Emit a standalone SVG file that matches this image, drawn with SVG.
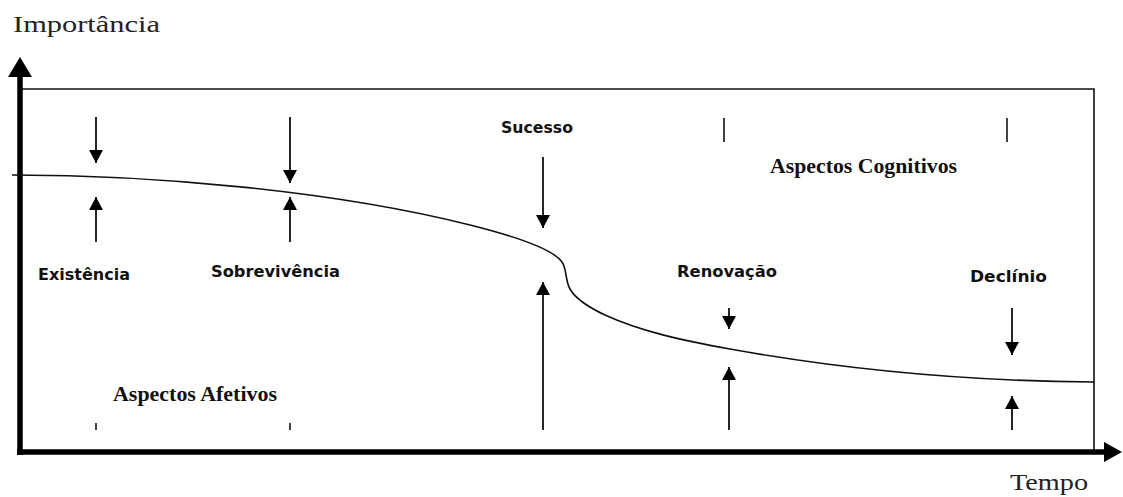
<svg xmlns="http://www.w3.org/2000/svg" width="1123" height="497" viewBox="0 0 1123 497">
<style>
.lab{font-family:"DejaVu Sans","Liberation Sans",sans-serif;font-weight:bold;font-size:16px;fill:#111}
.asp{font-family:"Liberation Serif","Times New Roman",serif;font-weight:bold;font-size:20px;fill:#111}
.ax{font-family:"Liberation Serif","Times New Roman",serif;fill:#222}
.arr{stroke:#000;stroke-width:1.7;fill:none;marker-end:url(#ah)}
.tick{stroke:#222;stroke-width:1.7}
</style>
<defs>
<marker id="ah" markerUnits="userSpaceOnUse" viewBox="0 0 13 14" refX="13" refY="7" markerWidth="13" markerHeight="14" orient="auto">
<path d="M0,0 L13,7 L0,14 z" fill="#000"/>
</marker>
</defs>
<rect width="1123" height="497" fill="#fff"/>
<g id="frame" fill="none" stroke="#111" stroke-width="1.6">
<path d="M22,89 H1094 V452"/>
</g>
<g id="axes">
<line x1="20" y1="74" x2="20" y2="455" stroke="#000" stroke-width="5.5"/>
<polygon points="20,57 32,77 8,77" fill="#000"/>
<line x1="17" y1="452" x2="1106" y2="452" stroke="#000" stroke-width="5.5"/>
<polygon points="1122,452 1104,442 1104,462" fill="#000"/>
<text class="ax" x="13" y="32" font-size="24" textLength="147" lengthAdjust="spacingAndGlyphs">Importância</text>
<text class="ax" x="1010" y="490" font-size="23" textLength="78" lengthAdjust="spacingAndGlyphs">Tempo</text>
</g>
<g id="curve">
<path d="M12,175 C150,175 330,190 470,225 C530,240 555,252 562,262 C567,269 565,280 570,289 C575,298 588,307 605,315 C640,331 680,340 730,349 C830,367 950,381 1094,382" fill="none" stroke="#111" stroke-width="1.6"/>
</g>
<g id="connectors">
<line class="arr" x1="96" y1="117" x2="96" y2="163"/>
<line class="arr" x1="96" y1="242" x2="96" y2="197"/>
<line class="arr" x1="290" y1="117" x2="290" y2="183"/>
<line class="arr" x1="290" y1="242" x2="290" y2="197"/>
<line class="arr" x1="543" y1="157" x2="543" y2="228"/>
<line class="arr" x1="543" y1="430" x2="543" y2="282"/>
<line class="arr" x1="729" y1="308" x2="729" y2="329"/>
<line class="arr" x1="729" y1="430" x2="729" y2="367"/>
<line class="arr" x1="1012" y1="308" x2="1012" y2="355"/>
<line class="arr" x1="1012" y1="430" x2="1012" y2="396"/>
<line class="tick" x1="724" y1="118" x2="724" y2="142"/>
<line class="tick" x1="1007" y1="118" x2="1007" y2="142"/>
<line class="tick" x1="96" y1="423" x2="96" y2="430"/>
<line class="tick" x1="290" y1="423" x2="290" y2="430"/>
</g>
<g id="existencia"><text class="lab" x="38" y="280" textLength="92" lengthAdjust="spacingAndGlyphs">Existência</text></g>
<g id="sobrevivencia"><text class="lab" x="211" y="277" textLength="129" lengthAdjust="spacingAndGlyphs">Sobrevivência</text></g>
<g id="sucesso"><text class="lab" x="501" y="133" textLength="72" lengthAdjust="spacingAndGlyphs">Sucesso</text></g>
<g id="renovacao"><text class="lab" x="677" y="277" textLength="100" lengthAdjust="spacingAndGlyphs">Renovação</text></g>
<g id="declinio"><text class="lab" x="970" y="282" textLength="77" lengthAdjust="spacingAndGlyphs">Declínio</text></g>
<g id="cognitivos"><text class="asp" x="770" y="173" textLength="187" lengthAdjust="spacingAndGlyphs">Aspectos  Cognitivos</text></g>
<g id="afetivos"><text class="asp" x="113" y="401" textLength="164" lengthAdjust="spacingAndGlyphs">Aspectos  Afetivos</text></g>
</svg>
